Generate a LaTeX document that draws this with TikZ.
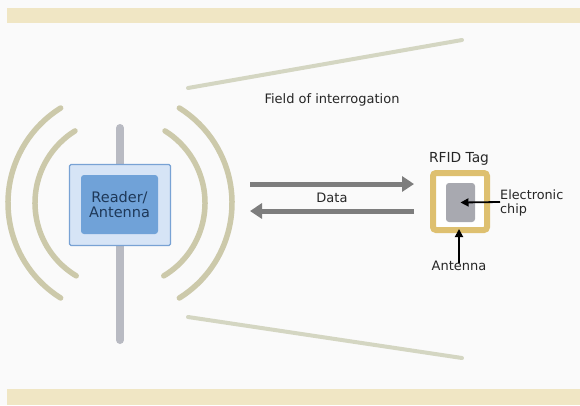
\documentclass[tikz,border=0pt]{standalone}
\usepackage{fontspec}
\setmainfont{DejaVu Sans}
\usetikzlibrary{arrows.meta,positioning}

\definecolor{band}{RGB}{240,230,196}
\definecolor{wave}{RGB}{204,201,170}
\definecolor{field}{RGB}{212,214,194}
\definecolor{pole}{RGB}{184,186,194}
\definecolor{readerout}{RGB}{214,228,246}
\definecolor{readerline}{RGB}{120,162,212}
\definecolor{readerin}{RGB}{112,162,216}
\definecolor{readertext}{RGB}{30,56,88}
\definecolor{tagline}{RGB}{222,192,112}
\definecolor{chipfill}{RGB}{168,169,176}
\definecolor{datagray}{RGB}{125,125,125}

\tikzset{
  wavearc/.style={wave, line width=5.5, line cap=round},
  fieldline/.style={field, line width=4, line cap=round},
  dataarrow/.style={datagray, line width=5, -{Triangle[length=12,width=15]}},
  pointer/.style={black, line width=1.8, -{Triangle[length=8,width=8]}},
  lbl/.style={text=black!85, inner sep=0, font=\fontsize{13}{15}\selectfont},
}

\begin{document}
\begin{tikzpicture}[x=1pt,y=-1pt]
\useasboundingbox (0,0) rectangle (580,405);
\fill[white!98!black] (0,0) rectangle (580,405);

%%%%%%%%%%% bands
\fill[band] (7,8) rectangle (580,23);
\fill[band] (7,389) rectangle (580,405);

%%%%%%%%%%% field of interrogation
\coordinate (ftopA) at (188,88);
\coordinate (ftopB) at (462,40);
\coordinate (fbotA) at (188,317);
\coordinate (fbotB) at (462,358);
\draw[fieldline] (ftopA) -- (ftopB);
\draw[fieldline] (fbotA) -- (fbotB);
\node[lbl] (field) at (332,100) {Field of interrogation};

%%%%%%%%%%% reader with its waves
\coordinate (c) at (120,203);
\draw[pole, line width=8, line cap=round] (120,128) -- (120,340);
% ---------------    left
\draw[wavearc] (c) ++(122:112) arc[start angle=122, end angle=238, radius=112];
\draw[wavearc] (c) ++(121:85) arc[start angle=121, end angle=238, radius=85];
% ---------------    right
\draw[wavearc] (c) ++(58:112) arc[start angle=58, end angle=-58, radius=112];
\draw[wavearc] (c) ++(59:85) arc[start angle=59, end angle=-58, radius=85];

\node[draw=readerline, fill=readerout, line width=1.2, rounded corners=1.5,
      minimum width=101, minimum height=81] (reader) at (120,205) {};
\node[fill=readerin, rounded corners=3, minimum width=77, minimum height=59,
      align=center, text=readertext, inner sep=0,
      font=\fontsize{14.5}{15.5}\selectfont] (readerin) at (119.5,204.5) {Reader/\\Antenna};

%%%%%%%%%%% the tag
\node[draw=tagline, line width=6, fill=white, rounded corners=3,
      minimum width=54, minimum height=57] (tag) at (460,201.5) {};
\node[fill=chipfill, rounded corners=3, minimum width=29, minimum height=39] (chip) at (460.5,202.5) {};
\node[lbl, font=\fontsize{13.8}{15}\selectfont, anchor=base] (tagname) at (459,162) {RFID Tag};

%%%%%%%%%%% data
\coordinate (txA) at (250,184);
\coordinate (txB) at (414,184);
\coordinate (rxA) at (414,211);
\coordinate (rxB) at (250,211);
\draw[dataarrow] (txA) -- (txB);
\draw[dataarrow] (rxA) -- (rxB);
\node[lbl] (data) at (332,197.5) {Data};

%%%%%%%%%%% labels
\node[lbl, align=left, anchor=west, font=\fontsize{12.8}{13.5}\selectfont] (chiplbl) at (500,203) {Electronic\\chip};
\draw[pointer] (chiplbl.west |- 0,202) -- (chip.center);
\node[lbl, anchor=base] (antlbl) at (459,270) {Antenna};
\coordinate (antfoot) at ([yshift=-3]antlbl.north);
\draw[pointer] (antfoot) -- ([yshift=4]antfoot |- tag.south);
\end{tikzpicture}
\end{document}
